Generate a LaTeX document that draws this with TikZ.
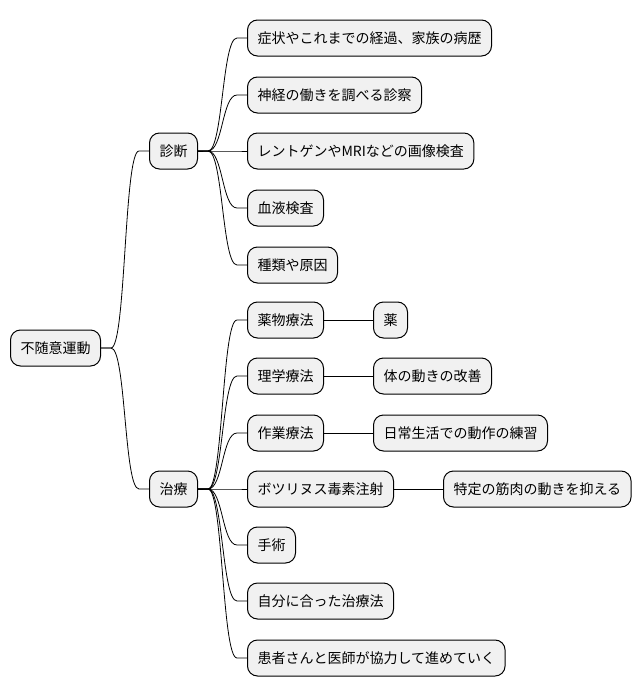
\documentclass[tikz,border=0pt]{standalone}
\usepackage{fontspec}
\setmainfont{Noto Sans CJK JP}
\definecolor{boxfill}{HTML}{F1F1F1}
\tikzset{
  mmbox/.style={draw=black, fill=boxfill, line width=1pt, rounded corners=10pt,
    minimum height=36pt, inner xsep=10pt, inner ysep=0pt, anchor=west,
    font=\fontsize{14pt}{16pt}\selectfont},
  mmline/.style={draw=black, line width=0.8pt},
}
\newcommand{\mmlink}[2]{\draw[mmline] (#1.east) -- ++(10pt,0) .. controls +(15pt,0) and +(-15pt,0) .. ($(#2.west)+(-10pt,0)$) -- (#2.west);}
\usetikzlibrary{calc}
\begin{document}
\begin{tikzpicture}[x=1pt,y=-1pt]
\useasboundingbox[fill=white] (0,0) rectangle (642,696);
\node[mmbox] (root) at (10,348) {不随意運動};
\node[mmbox] (diag) at (149,151) {診断};
\node[mmbox] (treat) at (149,489) {治療};
\node[mmbox] (d1) at (247,38) {症状やこれまでの経過、家族の病歴};
\node[mmbox] (d2) at (247,95) {神経の働きを調べる診察};
\node[mmbox] (d3) at (247,151) {レントゲンやMRIなどの画像検査};
\node[mmbox] (d4) at (247,208) {血液検査};
\node[mmbox] (d5) at (247,265) {種類や原因};
\node[mmbox] (t1) at (247,320) {薬物療法};
\node[mmbox] (t2) at (247,376) {理学療法};
\node[mmbox] (t3) at (247,433) {作業療法};
\node[mmbox] (t4) at (247,489) {ボツリヌス毒素注射};
\node[mmbox] (t5) at (247,545) {手術};
\node[mmbox] (t6) at (247,601) {自分に合った治療法};
\node[mmbox] (t7) at (247,658) {患者さんと医師が協力して進めていく};
\node[mmbox] (g1) at (373,320) {薬};
\node[mmbox] (g2) at (373,376) {体の動きの改善};
\node[mmbox] (g3) at (373,433) {日常生活での動作の練習};
\node[mmbox] (g4) at (443,489) {特定の筋肉の動きを抑える};
\mmlink{root}{diag}
\mmlink{root}{treat}
\foreach \c in {d1,d2,d3,d4,d5} {\mmlink{diag}{\c}}
\foreach \c in {t1,t2,t3,t4,t5,t6,t7} {\mmlink{treat}{\c}}
\draw[mmline] (t1) -- (g1);
\draw[mmline] (t2) -- (g2);
\draw[mmline] (t3) -- (g3);
\draw[mmline] (t4) -- (g4);
\end{tikzpicture}
\end{document}
